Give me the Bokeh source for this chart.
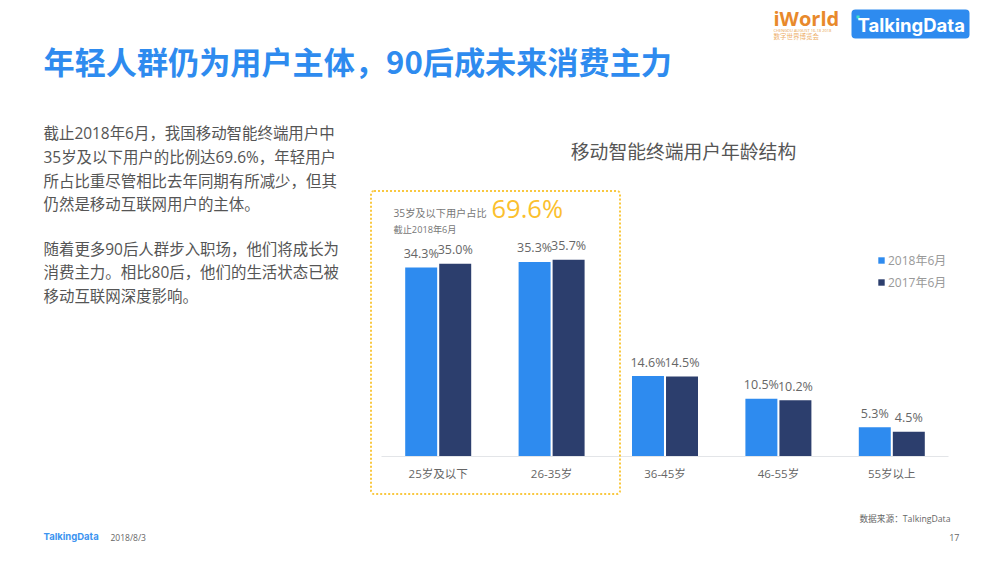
from bokeh.embed import file_html
from bokeh.resources import INLINE
from bokeh.plotting import figure
from bokeh.core.properties import value
from bokeh.models import (ColumnDataSource, Range1d, Label, LabelSet, LinearAxis, FixedTicker,
                          BoxAnnotation, Legend, LegendItem)
from bokeh.transform import dodge

categories = ["25岁及以下", "26-35岁", "36-45岁", "46-55岁", "55岁以上"]
values_2018 = [34.3, 35.3, 14.6, 10.5, 5.3]
values_2017 = [35.0, 35.7, 14.5, 10.2, 4.5]
series_names = ["2018年6月", "2017年6月"]
title_text = "年轻人群仍为用户主体，90后成未来消费主力"
chart_title = "移动智能终端用户年龄结构"
paragraph = ["截止2018年6月，我国移动智能终端用户中", "35岁及以下用户的比例达69.6%，年轻用户",
             "所占比重尽管相比去年同期有所减少，但其", "仍然是移动互联网用户的主体。",
             "随着更多90后人群步入职场，他们将成长为", "消费主力。相比80后，他们的生活状态已被",
             "移动互联网深度影响。"]

FONT = "Open Sans, Noto Sans CJK SC"
CJK = "Noto Sans CJK SC"
BLUE, NAVY = "#2E8BEF", "#2C3E6D"

W, H = 1000, 563
PX_X, PX_Y = 113.4, 5.51
idx = list(range(len(categories)))
src = ColumnDataSource(dict(i=idx, a=values_2018, b=values_2017,
                            at=[f"{v:.1f}%" for v in values_2018],
                            bt=[f"{v:.1f}%" for v in values_2017]))

x0 = -437.7 / PX_X
y0 = -(H - 456) / PX_Y
p = figure(width=W, height=H, x_range=Range1d(x0, x0 + W / PX_X),
           y_range=Range1d(y0, y0 + H / PX_Y), output_backend="svg", toolbar_location=None,
           min_border=0, x_axis_type=None, y_axis_type=None, background_fill_color="white")
p.grid.visible = False
p.outline_line_color = None

ax = LinearAxis(fixed_location=0, ticker=FixedTicker(ticks=idx),
                major_label_overrides={i: c for i, c in zip(idx, categories)},
                bounds=(-0.5, 4.5))
ax.axis_line_color = "#E3E5E8"
ax.major_tick_line_color = None
ax.minor_tick_line_color = None
ax.major_label_text_font = FONT
ax.major_label_text_font_size = "11.5px"
ax.major_label_text_color = "#666666"
ax.major_label_standoff = 3
p.add_layout(ax, "below")

W_BAR, OFF = 0.282, 0.15
r1 = p.vbar(x=dodge("i", -OFF), top="a", width=W_BAR, source=src,
            fill_color=BLUE, line_color=None)
r2 = p.vbar(x=dodge("i", OFF), top="b", width=W_BAR, source=src,
            fill_color=NAVY, line_color=None)

for col, txt, off in (("a", "at", -OFF), ("b", "bt", OFF)):
    p.add_layout(LabelSet(x=dodge("i", off), y=col, text=txt, source=src,
                          text_align="center", text_baseline="middle", y_offset=14,
                          text_font=value("Open Sans"), text_font_size="12.5px",
                          text_color="#666666"))

leg = Legend(items=[LegendItem(label=series_names[0], renderers=[r1]),
                    LegendItem(label=series_names[1], renderers=[r2])],
             location=(877, 272), glyph_width=8, glyph_height=8, spacing=4,
             label_text_font=FONT, label_text_font_size="12px", label_text_color="#999999",
             background_fill_alpha=0, border_line_color=None, padding=0, margin=0,
             label_standoff=3)
p.add_layout(leg)


def box(l, t, r, b, **kw):
    p.add_layout(BoxAnnotation(left=l, right=r, top=t, bottom=b,
                               left_units="canvas", right_units="canvas",
                               top_units="canvas", bottom_units="canvas", **kw))


def text(x, y, s, size, color="#555555", font=FONT, style="normal", align="left"):
    p.add_layout(Label(x=x, y=y, x_units="canvas", y_units="canvas", text=s,
                       text_font=font, text_font_size=f"{size}px", text_color=color,
                       text_font_style=style, text_align=align, text_baseline="middle"))


box(370.5, 190.5, 619.5, 493.5, fill_alpha=0, line_color="#F9C840", line_alpha=1, line_width=2,
    line_dash=[2, 2], border_radius=3)
text(43, 59.5, title_text, 31.15, "#2E8BEF", CJK, "bold")
for s, y in zip(paragraph, [132.5, 156.5, 180.5, 203.5, 248.5, 271.5, 295.5]):
    text(43, y, s, 15.45, "#555555")
text(683, 149.5, chart_title, 18.8, "#555555", CJK, align="center")
text(393, 212, "35岁及以下用户占比", 10.2, "#777777")
text(491, 207, "69.6%", 25.5, "#FBC02D")
text(393, 229, "截止2018年6月", 9.2, "#777777")

box(851, 9, 969, 38, fill_color=BLUE, fill_alpha=1, line_color=None, border_radius=4)
box(856, 15, 859, 18, fill_color="#3FE0C8", fill_alpha=1, line_color=None)
text(857, 24, "TalkingData", 18.5, "white", "Inter", "bold")
text(773, 18, "iWorld", 20, "#E8892B", "Open Sans", "bold")
text(773, 30, "CHENGDU AUGUST 16-18 2018", 4, "#E8A04A")
text(773, 35.5, "数字世界博览会", 6.5, "#EDB06A", CJK)

text(43, 536, "TalkingData", 9.5, "#3D94F0", "Inter", "bold")
text(110, 537, "2018/8/3", 8.5, "#666666")
text(950, 518, "数据来源：TalkingData", 8.7, "#666666", align="right")
text(959, 537, "17", 9, "#666666", align="right")

open("out.html", "w").write(file_html(p, INLINE))
